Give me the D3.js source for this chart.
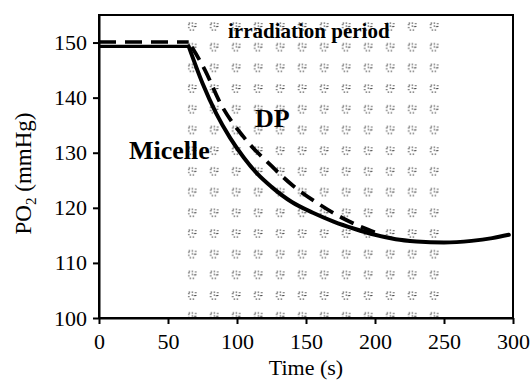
<!DOCTYPE html>
<html>
<head>
<meta charset="utf-8">
<script src="https://cdn.jsdelivr.net/npm/d3@7"></script>
<style>
  body { margin: 0; background: #fff; }
  svg text { font-family: "Liberation Serif", "Times New Roman", serif; fill: #000; }
</style>
</head>
<body>
<div id="chart"></div>
<script>
// data
const xTicks = [0, 50, 100, 150, 200, 250, 300];
const yTicks = [100, 110, 120, 130, 140, 150];

// Micelle (solid) : time (s), PO2 (mmHg)
const micelleFlatT = [0, 65];
const micelleFlatP = [149.3, 149.3];
const micelleT = [65, 75, 85, 95, 105, 115, 125, 140, 155, 170, 185, 200, 215, 230, 250, 270, 285, 297];
const micelleP = [149.3, 142.6, 137.1, 132.7, 129.1, 126.1, 123.8, 121.0, 119.1, 117.5, 116.2, 115.1, 114.3, 113.9, 113.7, 114.0, 114.5, 115.1];

// DP (dashed)
const dpFlatT = [0, 65];
const dpFlatP = [150.1, 150.1];
const dpT = [65, 76.8, 87.7, 104.3, 125, 140.6, 158, 176, 194.4, 205];
const dpP = [150.1, 145.0, 139.1, 133.0, 127.6, 124.0, 120.9, 118.2, 116.1, 115.1];

const irradiation = [65, 248];

const width = 530, height = 383;
const margin = {top: 15, right: 17, bottom: 65, left: 99};
const serif = '"Liberation Serif", "Times New Roman", serif';

let svg = d3.select("#chart").append("svg")
            .attr("width", width)
            .attr("height", height)
            .attr("font-family", serif);

let x = d3.scaleLinear().domain([0, 300]).range([margin.left, width - margin.right]);
let y = d3.scaleLinear().domain([100, 155]).range([height - margin.bottom, margin.top]);

// irradiation pattern (speckled glyph grid)
let defs = svg.append("defs");
let pat = defs.append("pattern")
              .attr("id", "speck")
              .attr("patternUnits", "userSpaceOnUse")
              .attr("x", x(irradiation[0]) - 1)
              .attr("y", 21)
              .attr("width", 22)
              .attr("height", 20.7);
pat.append("path")
   .attr("d", "M1,2 h6 M1,3 v6 M4,5 h3 v3 M2,9 h5 M8,2 v4")
   .attr("fill", "none")
   .attr("stroke", "#111")
   .attr("stroke-width", 1.2)
   .attr("stroke-dasharray", "1.2 1.8")
   .attr("opacity", 0.85);

svg.append("rect")
   .attr("x", x(irradiation[0]) - 1)
   .attr("y", 21)
   .attr("width", x(irradiation[1]) - x(irradiation[0]))
   .attr("height", y(100) - 21)
   .attr("fill", "url(#speck)");

// curves
let lineLin = d3.line().x(d => x(d[0])).y(d => y(d[1]));
let lineSmooth = d3.line().x(d => x(d[0])).y(d => y(d[1])).curve(d3.curveMonotoneX);

let zip = (a, b) => a.map((v, i) => [v, b[i]]);

svg.append("path").datum(zip(dpFlatT, dpFlatP))
   .attr("d", lineLin).attr("fill", "none").attr("stroke", "#000")
   .attr("stroke-width", 3.5).attr("stroke-dasharray", "17 9");
svg.append("path").datum(zip(dpT, dpP))
   .attr("d", lineSmooth).attr("fill", "none").attr("stroke", "#000")
   .attr("stroke-width", 3.8).attr("stroke-dasharray", "15 8").attr("stroke-dashoffset", -6);

svg.append("path").datum(zip(micelleFlatT, micelleFlatP))
   .attr("d", lineLin).attr("fill", "none").attr("stroke", "#000")
   .attr("stroke-width", 3.2);
svg.append("path").datum(zip(micelleT, micelleP))
   .attr("d", lineSmooth).attr("fill", "none").attr("stroke", "#000")
   .attr("stroke-width", 4).attr("stroke-linecap", "round");

// frame
svg.append("rect")
   .attr("x", x(0)).attr("y", y(155))
   .attr("width", x(300) - x(0)).attr("height", y(100) - y(155))
   .attr("fill", "none").attr("stroke", "#000").attr("stroke-width", 2);

// axes
let xAxis = d3.axisBottom(x).tickValues(xTicks).tickSize(6).tickPadding(9).tickSizeOuter(0);
let yAxis = d3.axisLeft(y).tickValues(yTicks).tickSize(6).tickPadding(6).tickSizeOuter(0);

let gx = svg.append("g").attr("transform", `translate(0,${y(100)})`).call(xAxis);
let gy = svg.append("g").attr("transform", `translate(${x(0)},0)`).call(yAxis);

[gx, gy].forEach(g => {
  g.attr("font-family", serif).attr("font-size", 22);
  g.select(".domain").attr("stroke-width", 2);
  g.selectAll(".tick line").attr("stroke-width", 2);
  g.selectAll(".tick text").attr("font-size", 22);
});

// axis titles
svg.append("text")
   .attr("x", (x(0) + x(300)) / 2)
   .attr("y", 375)
   .attr("text-anchor", "middle")
   .attr("font-size", 22)
   .text("Time (s)");

let yl = svg.append("text")
   .attr("transform", `translate(31,${(y(100) + y(155)) / 2 + 7}) rotate(-90)`)
   .attr("text-anchor", "middle")
   .attr("font-size", 23);
yl.append("tspan").text("PO");
yl.append("tspan").attr("font-size", 15).attr("dy", 5).text("2");
yl.append("tspan").attr("dy", -5).text(" (mmHg)");

// annotations
svg.append("text").attr("x", 228).attr("y", 38)
   .attr("font-size", 21).attr("font-weight", "bold")
   .text("irradiation period");
svg.append("text").attr("x", 255).attr("y", 127)
   .attr("font-size", 26).attr("font-weight", "bold")
   .text("DP");
svg.append("text").attr("x", 129).attr("y", 159)
   .attr("font-size", 26).attr("font-weight", "bold")
   .text("Micelle");
</script>
</body>
</html>
